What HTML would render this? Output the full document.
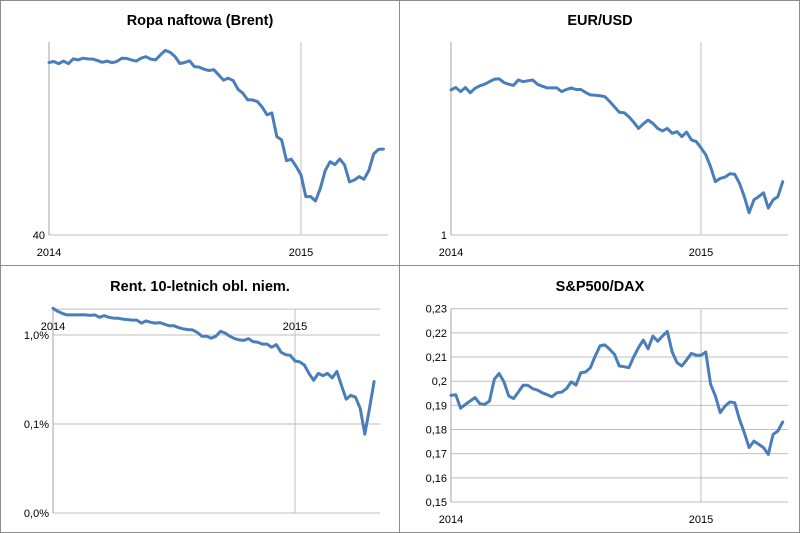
<!DOCTYPE html>
<html><head><meta charset="utf-8"><style>
body{margin:0;background:#fff}
svg{display:block;font-family:"Liberation Sans",sans-serif}
</style></head><body>
<svg id="c" width="800" height="533" viewBox="0 0 800 533">
<rect x="0.5" y="0.5" width="799" height="532" fill="#fff" stroke="#8c8c8c"/>
<line x1="399.5" y1="0" x2="399.5" y2="533" stroke="#8c8c8c"/>
<line x1="0" y1="265.5" x2="800" y2="265.5" stroke="#8c8c8c"/>
</svg>
<script>
const brentValues=[111.5,111.9,111.0,112.1,111.0,113.0,112.6,113.3,113.0,112.9,112.3,111.6,112.1,111.4,111.9,113.3,113.2,112.6,112.1,113.3,113.9,112.9,112.6,114.7,116.5,115.7,114.0,111.1,111.5,112.2,109.8,109.6,108.7,108.2,108.5,106.4,104.2,105.0,104.0,100.4,98.8,96.0,96.0,95.3,93.0,89.8,90.6,80.8,79.4,70.8,71.4,68.4,64.9,55.9,55.9,54.1,59.4,66.7,70.4,69.2,71.5,69.0,62.0,62.8,64.2,63.1,66.7,73.6,75.5,75.6];
const eurusdValues=[1.351,1.357,1.347,1.357,1.344,1.355,1.361,1.365,1.371,1.377,1.378,1.369,1.365,1.362,1.375,1.371,1.373,1.375,1.365,1.360,1.356,1.356,1.356,1.347,1.352,1.356,1.352,1.352,1.345,1.339,1.338,1.337,1.335,1.323,1.310,1.297,1.296,1.286,1.273,1.258,1.269,1.278,1.270,1.258,1.252,1.258,1.246,1.250,1.238,1.249,1.230,1.226,1.211,1.194,1.165,1.129,1.137,1.140,1.148,1.147,1.125,1.093,1.054,1.085,1.093,1.102,1.065,1.085,1.093,1.129];
const bundValues=[1.995,1.845,1.75,1.68,1.68,1.68,1.69,1.68,1.66,1.68,1.58,1.65,1.58,1.55,1.54,1.51,1.49,1.47,1.47,1.36,1.44,1.39,1.36,1.38,1.32,1.27,1.27,1.21,1.17,1.15,1.14,1.07,0.97,0.97,0.92,0.97,1.10,1.05,0.97,0.91,0.88,0.87,0.91,0.84,0.83,0.79,0.79,0.73,0.78,0.64,0.60,0.59,0.51,0.50,0.46,0.37,0.31,0.37,0.35,0.37,0.33,0.39,0.27,0.19,0.21,0.20,0.15,0.077,0.15,0.30];
const spdaxValues=[0.1941,0.1944,0.1888,0.1904,0.1918,0.1932,0.1907,0.1904,0.1918,0.2008,0.2032,0.1998,0.1939,0.1928,0.1955,0.1983,0.1983,0.1969,0.1963,0.1952,0.1944,0.1936,0.1952,0.1955,0.1969,0.1997,0.1984,0.2035,0.2038,0.2056,0.2104,0.2146,0.2150,0.2132,0.2111,0.2063,0.2060,0.2056,0.2101,0.2139,0.2170,0.2134,0.2187,0.2165,0.2187,0.2206,0.2121,0.2077,0.2063,0.2088,0.2115,0.2107,0.2107,0.2121,0.1987,0.1939,0.1870,0.1897,0.1914,0.1911,0.1842,0.1787,0.1725,0.1752,0.1739,0.1725,0.1697,0.1780,0.1794,0.1831];
const yearLabels=["2014","2015"];
const spdaxTicks=[0.15,0.16,0.17,0.18,0.19,0.2,0.21,0.22,0.23];
const spdaxTickLabels=["0,15","0,16","0,17","0,18","0,19","0,2","0,21","0,22","0,23"];
const bundTicks=[0.01,0.1,1];
const bundTickLabels=["0,0%","0,1%","1,0%"];

const svg=document.getElementById('c');
const NS='http://www.w3.org/2000/svg';
function mk(tag,attrs,text){const e=document.createElementNS(NS,tag);for(const k in attrs)e.setAttribute(k,attrs[k]);if(text!==undefined)e.textContent=text;svg.appendChild(e);return e;}

function panel(p){
  const xs=i=>p.x0+(p.x2015-p.x0)*i/52;
  const ys=p.ys;
  const t=mk('text',{x:p.cx,y:p.ty,'text-anchor':'middle','font-size':'14.5','font-weight':'bold',fill:'#000'},p.title);
  
  
  p.grid.forEach((v,k)=>{
    const y=ys(v);
    const g=mk('line',{x1:p.x0,x2:p.x1,y1:y,y2:y,stroke:'#bfbfbf','stroke-width':1});
    
    
    if(p.gridLabels[k]!==''){
      const l=mk('text',{x:p.x0-4,y:y+4,'text-anchor':'end','font-size':'11',fill:'#000'},p.gridLabels[k]);
      
      
    }
  });
  [p.x0,p.x2015].forEach((x,k)=>{
    const v=mk('line',{x1:x,x2:x,y1:p.top,y2:p.bottom,stroke:k?'#bfbfbf':'#a6a6a6','stroke-width':1});
    
    
    const l=mk('text',{x:x,y:p.xly,'text-anchor':'middle','font-size':'11',fill:'#000'},yearLabels[k]);
    
    
  });
  const d=p.values.map((v,i)=>(i?'L':'M')+xs(i).toFixed(1)+','+ys(v).toFixed(1)).join('');
  const path=mk('path',{d:d,fill:'none',stroke:'#4a7ebb','stroke-width':3,'stroke-linejoin':'round','stroke-linecap':'round'});
  
  
}

panel({key:'brent',title:'Ropa naftowa (Brent)',cx:200,ty:25,x0:49,x1:388,x2015:301,top:42,bottom:235,xly:256,
  ys:v=>235-(v-40)*193/80,grid:[40],gridLabels:['40'],values:brentValues});
panel({key:'eurusd',title:'EUR/USD',cx:600,ty:25,x0:451,x1:788,x2015:701,top:42,bottom:235,xly:256,
  ys:v=>235-(v-1)*193/0.467,grid:[1],gridLabels:['1'],values:eurusdValues});
panel({key:'bund',title:'Rent. 10-letnich obl. niem.',cx:200,ty:291,x0:53,x1:380,x2015:295,top:309,bottom:513,xly:330,
  ys:v=>335-Math.log10(v)*89,grid:[1.95].concat(bundTicks),gridLabels:[''].concat(bundTickLabels),values:bundValues});
panel({key:'spdax',title:'S&P500/DAX',cx:600,ty:291,x0:451,x1:788,x2015:701,top:308.7,bottom:502,xly:523,
  ys:v=>502-(v-0.15)*2416.25,grid:spdaxTicks,gridLabels:spdaxTickLabels,values:spdaxValues});
</script>
</body></html>
